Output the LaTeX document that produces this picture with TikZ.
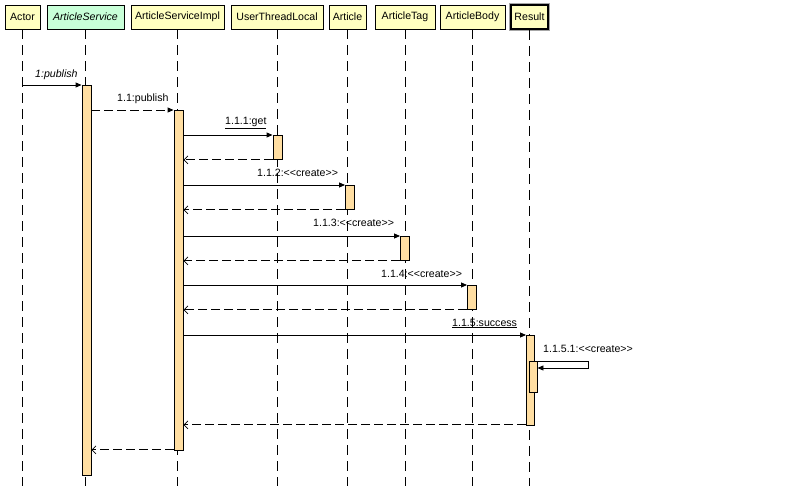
\documentclass[tikz,border=0pt]{standalone}
\usepackage{fontspec}
\setmainfont{Liberation Sans}[Ligatures=TeXOff]
\usetikzlibrary{arrows.meta,calc}
\definecolor{hdr}{RGB}{255,255,192}
\definecolor{hdrg}{RGB}{200,255,216}
\definecolor{barc}{RGB}{255,222,162}
\begin{document}
\begin{tikzpicture}[x=1pt,y=-1pt,
  font=\fontsize{10.6pt}{12pt}\selectfont,
  hdrbox/.style={draw, fill=hdr, minimum height=24pt, inner sep=0pt, line width=0.9pt},
  resbox/.style={hdrbox, line width=1.8pt, preaction={draw=gray!70, line width=3.6pt}},
  life/.style={line width=0.9pt, dash pattern=on 10pt off 6pt},
  bar/.style={draw, fill=barc, inner sep=0pt, minimum width=9pt, anchor=north, line width=0.9pt},
  call/.style={line width=0.9pt, -{Triangle[length=6pt,width=5pt]}},
  dcall/.style={call, dash pattern=on 9pt off 4pt},
  ret/.style={line width=0.9pt, dash pattern=on 9pt off 4pt, -{Straight Barb[length=4pt,width=8pt,line width=0.7pt]}},
  lbl/.style={inner sep=0pt, anchor=base west}]
\fill[white] (0,0) rectangle (797,486);
\useasboundingbox (0,0) rectangle (797,486);
\coordinate (bot) at (0,486);
% headers
\node[hdrbox, minimum width=35pt] (actor) at (22.5,17) {Actor};
\node[hdrbox, fill=hdrg, minimum width=77pt] (svc) at (85.5,17) {\itshape ArticleService};
\node[hdrbox, minimum width=93pt] (impl) at (177.5,17) {ArticleServiceImpl};
\node[hdrbox, minimum width=92pt] (utl) at (277,17) {UserThreadLocal};
\node[hdrbox, minimum width=37pt] (art) at (347.5,17) {Article};
\node[hdrbox, minimum width=60pt] (tag) at (405,17) {ArticleTag};
\node[hdrbox, minimum width=65pt] (body) at (472.5,17) {ArticleBody};
\node[resbox, minimum width=37pt] (res) at (529.5,17) {Result};
% lifelines
\foreach \n in {actor,svc,impl,utl,art,tag,body,res}
  \draw[life] (\n.south) -- (\n.south |- bot);
% activation bars
\node[bar, minimum height=390pt] (b1) at (86.5,85) {};
\node[bar, minimum height=340pt] (b2) at (178.5,110) {};
\node[bar, minimum height=24pt] (b3) at (277.5,135) {};
\node[bar, minimum height=24pt] (b4) at (350,185) {};
\node[bar, minimum height=24pt] (b5) at (405,236) {};
\node[bar, minimum height=24pt] (b6) at (472,285) {};
\node[bar, minimum width=8pt, minimum height=90pt] (b7) at (530.5,335) {};
\node[bar, minimum width=8pt, minimum height=31pt] (b8) at (533,361) {};
% messages
\draw[call] (actor.south |- b1.north) -- (b1.north west);
\node[lbl] (l1) at (35,77.5) {\itshape 1:publish};
\draw[dcall] (b1.east |- b2.north) -- (b2.north west);
\node[lbl] (l2) at (117,101.5) {1.1:publish};
\draw[call] (b2.east |- b3.north) -- (b3.north west);
\node[lbl] (l3) at (225,125) {\underline{1.1.1:get}};
\draw[ret] (b3.south west) -- (b3.south west -| b2.east);
\draw[call] (b2.east |- b4.north) -- (b4.north west);
\node[lbl] (l4) at (257,177) {1.1.2:<<create>>};
\draw[ret] (b4.south west) -- (b4.south west -| b2.east);
\draw[call] (b2.east |- b5.north) -- (b5.north west);
\node[lbl] (l5) at (313,227) {1.1.3:<<create>>};
\draw[ret] (b5.south west) -- (b5.south west -| b2.east);
\draw[call] (b2.east |- b6.north) -- (b6.north west);
\node[lbl] (l6) at (381,277) {1.1.4:<<create>>};
\draw[ret] (b6.south west) -- (b6.south west -| b2.east);
\draw[call] (b2.east |- b7.north) -- (b7.north west);
\node[lbl] (l7) at (452,326) {\underline{1.1.5:success}};
\coordinate (sc) at (588,368);
\draw[call] (b7.east |- b8.north) -| (sc) -- (sc -| b8.east);
\node[lbl] (l8) at (543,352) {1.1.5.1:<<create>>};
\draw[ret] ([yshift=1pt]b7.south west) -- ([yshift=1pt]b7.south west -| b2.east);
\draw[ret] ([yshift=1pt]b2.south west) -- ([yshift=1pt]b2.south west -| b1.east);
\end{tikzpicture}
\end{document}
